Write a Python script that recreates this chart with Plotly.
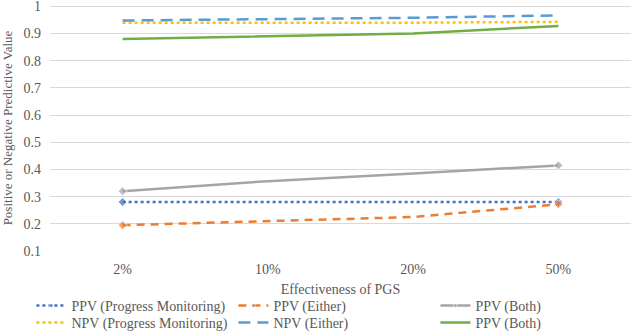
import plotly.graph_objects as go

categories = ["2%", "10%", "20%", "50%"]
ppv_pm = [0.28, 0.28, 0.28, 0.28]
ppv_either = [0.195, 0.21, 0.225, 0.272]
ppv_both = [0.32, 0.357, 0.385, 0.415]
npv_pm = [0.94, 0.94, 0.94, 0.943]
npv_either = [0.948, 0.953, 0.958, 0.967]
npv_both = [0.88, 0.89, 0.9, 0.928]
y_ticks = [0.1, 0.2, 0.3, 0.4, 0.5, 0.6, 0.7, 0.8, 0.9, 1.0]
y_labels = ["0.1", "0.2", "0.3", "0.4", "0.5", "0.6", "0.7", "0.8", "0.9", "1"]

FONT = "serif"
TXT = "#595959"
end_markers = [7, 0, 0, 7]

series = [
    ("PPV (Progress Monitoring)", ppv_pm, "#4472C4", "dot", True, "legend"),
    ("PPV (Either)", ppv_either, "#ED7D31", "8px,6px", True, "legend"),
    ("PPV (Both)", ppv_both, "#A5A5A5", "solid", True, "legend"),
    ("NPV (Progress Monitoring)", npv_pm, "#FFC000", "dot", False, "legend2"),
    ("NPV (Either)", npv_either, "#5B9BD5", "12px,7px", False, "legend2"),
    ("PPV (Both)", npv_both, "#70AD47", "solid", False, "legend2"),
]

fig = go.Figure()
for name, vals, color, dash, mk, lg in series:
    fig.add_trace(go.Scatter(
        x=categories, y=vals, name=name, legend=lg,
        mode="lines+markers" if mk else "lines",
        line=dict(color=color, width=2.5, dash=dash),
        marker=dict(symbol="diamond", size=end_markers, color=color),
    ))

legend_common = dict(
    orientation="h", x=-0.032, xanchor="left", yanchor="middle",
    entrywidth=157, tracegroupgap=0, itemwidth=30,
    font=dict(family=FONT, size=14, color=TXT), bgcolor="rgba(0,0,0,0)",
)

fig.update_layout(
    width=631, height=331,
    margin=dict(l=50, r=0, t=5, b=80, autoexpand=False),
    paper_bgcolor="white", plot_bgcolor="white",
    font=dict(family=FONT, size=14, color=TXT),
    xaxis=dict(
        type="category", range=[-0.5, 3.5], showgrid=False,
        showline=False, ticks="", automargin=False, ticklabelstandoff=8,
        title=dict(text="Effectiveness of PGS", font=dict(family=FONT, size=14, color=TXT), standoff=8),
        tickfont=dict(family=FONT, size=14, color=TXT),
    ),
    yaxis=dict(
        range=[0.1, 1.005], tickvals=y_ticks, ticktext=y_labels,
        showgrid=True, gridcolor="#D9D9D9", gridwidth=1, ticklabeloverflow="allow",
        zeroline=False, showline=False, ticks="", automargin=False, ticklabelstandoff=8,
        tickfont=dict(family=FONT, size=14, color=TXT),
        title=dict(text="Positive or Negative Predictive Value", font=dict(family=FONT, size=13, color=TXT), standoff=10),
    ),
    legend=dict(legend_common, y=-0.2236),
    legend2=dict(legend_common, y=-0.2927),
    showlegend=True,
)

fig.write_html("out.html", config={"displayModeBar": False},
               post_script="document.body.style.margin='0';document.body.style.padding='0';")
